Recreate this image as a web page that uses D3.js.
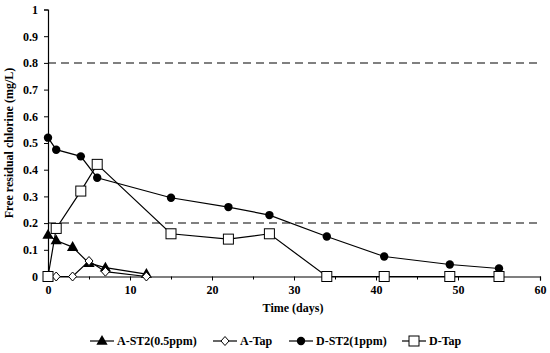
<!DOCTYPE html>
<html>
<head>
<meta charset="utf-8">
<script src="https://cdn.jsdelivr.net/npm/d3@7"></script>
<style>
  body { margin: 0; background: #fff; }
  svg text { font-family: "Liberation Serif", "Times New Roman", serif; font-weight: bold; fill: #000; }
</style>
</head>
<body>
<div id="chart"></div>
<script>
// Data
var aSt2Days = [0, 1, 3, 5, 7, 12];
var aSt2Values = [0.155, 0.135, 0.11, 0.05, 0.033, 0.009];
var aTapDays = [0, 1, 3, 5, 7, 12];
var aTapValues = [0, 0, 0, 0.058, 0.018, 0];
var dSt2Days = [0, 1, 4, 6, 15, 22, 27, 34, 41, 49, 55];
var dSt2Values = [0.52, 0.475, 0.45, 0.37, 0.295, 0.26, 0.23, 0.15, 0.075, 0.045, 0.03];
var dTapDays = [0, 1, 4, 6, 15, 22, 27, 34, 41, 49, 55];
var dTapValues = [0, 0.18, 0.32, 0.42, 0.16, 0.14, 0.16, 0, 0, 0, 0];
var seriesNames = ["A-ST2(0.5ppm)", "A-Tap", "D-ST2(1ppm)", "D-Tap"];
var xTicks = [0, 10, 20, 30, 40, 50, 60];
var xMinorTicks = [5, 15, 25, 35, 45, 55];
var yTicks = [0, 0.1, 0.2, 0.3, 0.4, 0.5, 0.6, 0.7, 0.8, 0.9, 1];
var limitLines = [0.2, 0.8];

var width = 550, height = 353;
var margin = {top: 9.5, left: 48, right: 10, bottom: 76.5};

var svg = d3.select("#chart").append("svg")
    .attr("width", width)
    .attr("height", height);

var x = d3.scaleLinear().domain([0, 60]).range([margin.left, width - margin.right]);
var y = d3.scaleLinear().domain([0, 1]).range([height - margin.bottom, margin.top]);

function zip(days, vals) {
    return days.map(function(d, i) { return {day: d, value: vals[i]}; });
}

var series = [
    {name: seriesNames[0], data: zip(aSt2Days, aSt2Values), marker: "triangle"},
    {name: seriesNames[1], data: zip(aTapDays, aTapValues), marker: "diamond"},
    {name: seriesNames[2], data: zip(dSt2Days, dSt2Values), marker: "circle"},
    {name: seriesNames[3], data: zip(dTapDays, dTapValues), marker: "square"}
];

// dashed limit lines
svg.selectAll(".limit")
    .data(limitLines)
    .enter().append("line")
    .attr("x1", x(0)).attr("x2", x(60))
    .attr("y1", function(d) { return y(d); })
    .attr("y2", function(d) { return y(d); })
    .attr("stroke", "#808080")
    .attr("stroke-width", 2)
    .attr("stroke-dasharray", "8,5");

// axes
var xAxisG = svg.append("g")
    .attr("transform", "translate(0," + y(0) + ")")
    .call(d3.axisBottom(x).tickValues(xTicks).tickSize(4).tickFormat(d3.format("d")));
xAxisG.selectAll("text").attr("font-size", 12).attr("dy", "0.85em");
svg.append("g")
    .attr("transform", "translate(0," + y(0) + ")")
    .call(d3.axisBottom(x).tickValues(xMinorTicks).tickSize(3).tickFormat(""))
    .select(".domain").remove();

var yAxisG = svg.append("g")
    .attr("transform", "translate(" + x(0) + ",0)")
    .call(d3.axisLeft(y).tickValues(yTicks).tickSize(4).tickFormat(function(d) { return d === 0 ? "0" : d === 1 ? "1" : d3.format(".1f")(d); }));
yAxisG.selectAll("text").attr("font-size", 12).attr("x", -10);

svg.selectAll(".domain").attr("stroke", "#000").attr("stroke-width", 1.2);
svg.selectAll(".tick line").attr("stroke", "#000");

// axis titles
svg.append("text")
    .attr("x", 293)
    .attr("y", 312)
    .attr("text-anchor", "middle")
    .attr("font-size", 12)
    .text("Time (days)");
svg.append("text")
    .attr("transform", "translate(13," + y(0.5) + ") rotate(-90)")
    .attr("text-anchor", "middle")
    .attr("font-size", 12)
    .text("Free residual chlorine (mg/L)");

// markers
function drawMarker(g, type, cx, cy) {
    if (type === "circle") {
        g.append("circle").attr("cx", cx).attr("cy", cy).attr("r", 4.2)
            .attr("fill", "#000");
    } else if (type === "square") {
        g.append("rect").attr("x", cx - 5).attr("y", cy - 5).attr("width", 10).attr("height", 10)
            .attr("fill", "#fff").attr("stroke", "#000").attr("stroke-width", 1);
    } else if (type === "triangle") {
        g.append("path").attr("d", d3.symbol().type(d3.symbolTriangle).size(55)())
            .attr("transform", "translate(" + cx + "," + (cy + 0.5) + ")")
            .attr("fill", "#000");
    } else if (type === "diamond") {
        g.append("path").attr("d", "M0,-4.5L4,0L0,4.5L-4,0Z")
            .attr("transform", "translate(" + cx + "," + cy + ")")
            .attr("fill", "#fff").attr("stroke", "#000").attr("stroke-width", 1);
    }
}

var line = d3.line()
    .x(function(d) { return x(d.day); })
    .y(function(d) { return y(d.value); });

series.forEach(function(s) {
    svg.append("path")
        .datum(s.data)
        .attr("d", line)
        .attr("fill", "none")
        .attr("stroke", "#000")
        .attr("stroke-width", 1.2);
});
series.forEach(function(s) {
    var g = svg.append("g");
    s.data.forEach(function(d) { drawMarker(g, s.marker, x(d.day), y(d.value)); });
});

// legend
var legendX = [90, 213, 289, 402];
var legendY = 341;
series.forEach(function(s, i) {
    var g = svg.append("g");
    var lx = legendX[i];
    var lw = 24;
    g.append("line").attr("x1", lx).attr("x2", lx + lw)
        .attr("y1", legendY).attr("y2", legendY)
        .attr("stroke", "#000").attr("stroke-width", 1.2);
    drawMarker(g, s.marker, lx + lw / 2, legendY);
    g.append("text")
        .attr("x", lx + lw + 3)
        .attr("y", legendY + 4)
        .attr("font-size", 12)
        .text(s.name);
});
</script>
</body>
</html>
